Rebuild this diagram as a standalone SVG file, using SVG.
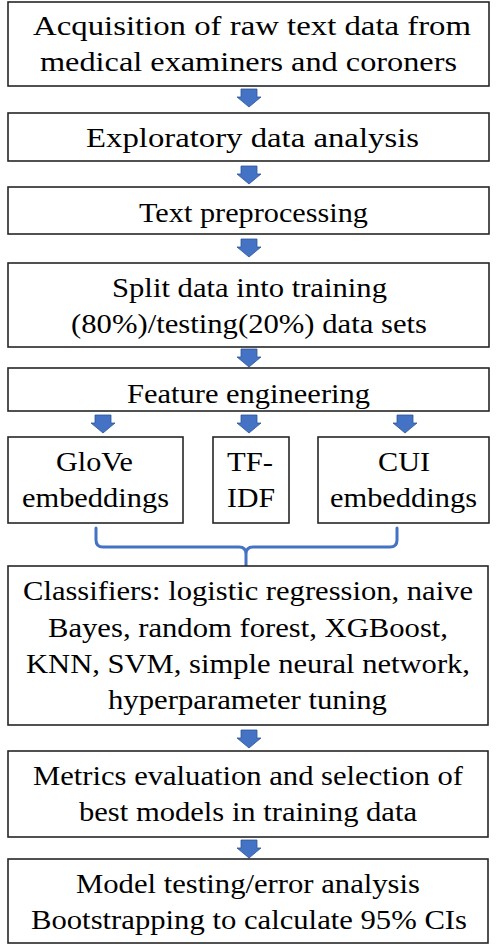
<svg xmlns="http://www.w3.org/2000/svg" width="498" height="944" viewBox="0 0 498 944">
<defs>
<style>
.box{fill:#fff;stroke:#262626;stroke-width:1.6}
.arr{fill:#4472C4;stroke:#2F5597;stroke-width:0.8}
.brace{fill:none;stroke:#4472C4;stroke-width:3;stroke-linecap:round;stroke-linejoin:round}
text{font-family:"Liberation Serif","DejaVu Serif",serif;font-size:27.5px;fill:#000;text-anchor:middle}
</style>
<path id="dn" d="M-8,0 H8 V8 H12 L0,18 L-12,8 H-8 Z"/>
</defs>
<rect width="498" height="944" fill="#fff"/>
<g id="connectors">
<use href="#dn" class="arr" x="249" y="89"/>
<use href="#dn" class="arr" x="249" y="166"/>
<use href="#dn" class="arr" x="249" y="239"/>
<use href="#dn" class="arr" x="249" y="349"/>
<use href="#dn" class="arr" x="103" y="415"/>
<use href="#dn" class="arr" x="249" y="415"/>
<use href="#dn" class="arr" x="405" y="415"/>
<path class="brace" d="M96,528 V540 Q96,547 103,547 H239 Q246,547 246,554 V566 M397,528 V540 Q397,547 390,547 H253 Q246,547 246,554"/>
<use href="#dn" class="arr" x="249" y="730"/>
<use href="#dn" class="arr" x="249" y="840"/>
</g>
<g id="n1"><rect class="box" x="8" y="2" width="481" height="84"/>
<text x="252" y="35" textLength="438" lengthAdjust="spacingAndGlyphs">Acquisition of raw text data from</text>
<text x="248.5" y="71" textLength="417" lengthAdjust="spacingAndGlyphs">medical examiners and coroners</text></g>
<g id="n2"><rect class="box" x="8" y="113" width="481" height="48"/>
<text x="252.5" y="147" textLength="333" lengthAdjust="spacingAndGlyphs">Exploratory data analysis</text></g>
<g id="n3"><rect class="box" x="8" y="187" width="481" height="47"/>
<text x="253.5" y="222" textLength="229" lengthAdjust="spacingAndGlyphs">Text preprocessing</text></g>
<g id="n4"><rect class="box" x="8" y="263" width="481" height="84"/>
<text x="249.5" y="297" textLength="275" lengthAdjust="spacingAndGlyphs">Split data into training</text>
<text x="249" y="333" textLength="356" lengthAdjust="spacingAndGlyphs">(80%)/testing(20%) data sets</text></g>
<g id="n5"><rect class="box" x="8" y="368" width="481" height="43"/>
<text x="248.5" y="403" textLength="243" lengthAdjust="spacingAndGlyphs">Feature engineering</text></g>
<g id="n6"><rect class="box" x="8" y="437" width="175" height="86"/>
<text x="94.5" y="471" textLength="77" lengthAdjust="spacingAndGlyphs">GloVe</text>
<text x="95.5" y="507" textLength="147" lengthAdjust="spacingAndGlyphs">embeddings</text></g>
<g id="n7"><rect class="box" x="213" y="437" width="76" height="86"/>
<text x="250" y="471" textLength="46" lengthAdjust="spacingAndGlyphs">TF-</text>
<text x="251" y="507" textLength="48" lengthAdjust="spacingAndGlyphs">IDF</text></g>
<g id="n8"><rect class="box" x="318" y="437" width="171" height="86"/>
<text x="404" y="471" textLength="52" lengthAdjust="spacingAndGlyphs">CUI</text>
<text x="403.5" y="507" textLength="147" lengthAdjust="spacingAndGlyphs">embeddings</text></g>
<g id="n9"><rect class="box" x="8" y="566" width="480" height="159"/>
<text x="248" y="600" textLength="450" lengthAdjust="spacingAndGlyphs">Classifiers: logistic regression, naive</text>
<text x="248" y="637" textLength="400" lengthAdjust="spacingAndGlyphs">Bayes, random forest, XGBoost,</text>
<text x="248" y="673" textLength="444" lengthAdjust="spacingAndGlyphs">KNN, SVM, simple neural network,</text>
<text x="247.5" y="709" textLength="279" lengthAdjust="spacingAndGlyphs">hyperparameter tuning</text></g>
<g id="n10"><rect class="box" x="8" y="751" width="480" height="86"/>
<text x="248" y="785" textLength="430" lengthAdjust="spacingAndGlyphs">Metrics evaluation and selection of</text>
<text x="248" y="821" textLength="338" lengthAdjust="spacingAndGlyphs">best models in training data</text></g>
<g id="n11"><rect class="box" x="8" y="859" width="480" height="84"/>
<text x="248" y="893" textLength="344" lengthAdjust="spacingAndGlyphs">Model testing/error analysis</text>
<text x="249" y="929" textLength="436" lengthAdjust="spacingAndGlyphs">Bootstrapping to calculate 95% CIs</text></g>
</svg>
